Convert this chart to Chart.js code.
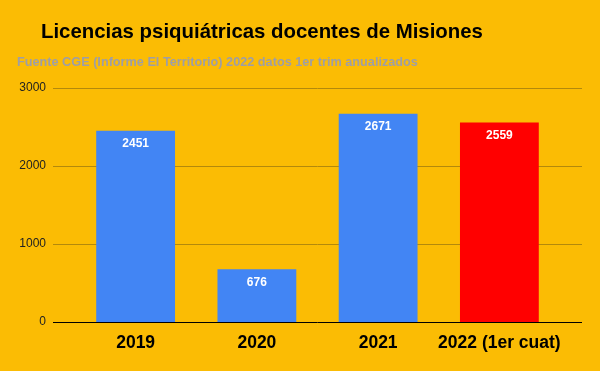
<!DOCTYPE html>
<html>
<head>
  <meta charset="UTF-8" />
  <title>Licencias psiquiátricas docentes de Misiones</title>
  <script src="https://cdn.jsdelivr.net/npm/chart.js"></script>
  <style>
    body {
      margin: 0;
      padding: 0;
      background: #fbbc04;
    }
    #wrap {
      width: 600px;
      height: 371px;
    }
  </style>
</head>
<body>
  <div id="wrap"><canvas id="chart" width="600" height="371"></canvas></div>
  <script>
    const years = ['2019', '2020', '2021', '2022 (1er cuat)'];
    const licencias = [2451, 676, 2671, 2559];
    const barColors = ['#4285f4', '#4285f4', '#4285f4', '#ff0000'];
    const yTicks = [0, 1000, 2000, 3000];

    const titleText = 'Licencias psiquiátricas docentes de Misiones';
    const subtitleText = 'Fuente CGE (Informe El Territorio) 2022 datos 1er trim anualizados';
    const font = '"Liberation Sans", Arial, sans-serif';

    // titles, long grid lines and value labels
    const decor = {
      id: 'decor',
      beforeDraw(chart) {
        const ctx = chart.ctx;
        ctx.save();
        ctx.fillStyle = '#fbbc04';
        ctx.fillRect(0, 0, chart.width, chart.height);
        ctx.textBaseline = 'alphabetic';
        ctx.textAlign = 'left';
        ctx.fillStyle = '#000';
        ctx.font = 'bold 20.4px ' + font;
        ctx.fillText(titleText, 41, 38);
        ctx.fillStyle = '#9e9ea6';
        ctx.font = 'bold 12.7px ' + font;
        ctx.fillText(subtitleText, 17, 66);
        ctx.restore();
      },
      beforeDatasetsDraw(chart) {
        const ctx = chart.ctx;
        const y = chart.scales.y;
        ctx.save();
        yTicks.forEach(v => {
          const py = Math.round(y.getPixelForValue(v)) + 0.5;
          ctx.strokeStyle = v === 0 ? '#000' : '#b3890c';
          ctx.lineWidth = 1;
          ctx.beginPath();
          ctx.moveTo(53, py);
          ctx.lineTo(582, py);
          ctx.stroke();
        });
        ctx.restore();
      },
      afterDatasetsDraw(chart) {
        const ctx = chart.ctx;
        ctx.save();
        ctx.fillStyle = '#fff';
        ctx.font = 'bold 12px ' + font;
        ctx.textAlign = 'center';
        ctx.textBaseline = 'middle';
        chart.getDatasetMeta(0).data.forEach((bar, i) => {
          ctx.fillText(String(licencias[i]), bar.x, bar.y + 13);
        });
        ctx.restore();
      }
    };

    new Chart(document.getElementById('chart').getContext('2d'), {
      type: 'bar',
      data: {
        labels: years,
        datasets: [{
          data: licencias,
          backgroundColor: barColors,
          borderWidth: 0,
          barPercentage: 0.65,
          categoryPercentage: 1
        }]
      },
      options: {
        responsive: false,
        animation: false,
        layout: { padding: { top: 88, right: 40, left: 0, bottom: 0 } },
        plugins: {
          legend: { display: false },
          title: { display: false },
          tooltip: { enabled: false }
        },
        scales: {
          x: {
            grid: { display: false, drawTicks: false },
            border: { display: false },
            ticks: {
              color: '#000',
              padding: 11,
              autoSkip: false,
              maxRotation: 0,
              minRotation: 0,
              font: { family: font, size: 17.5, weight: 'bold' }
            },
            afterFit(scale) { scale.height = 49; }
          },
          y: {
            min: 0,
            max: 3000,
            grid: { display: false, drawTicks: false },
            border: { display: false },
            afterBuildTicks(scale) { scale.ticks = yTicks.map(v => ({ value: v })); },
            ticks: {
              color: '#222',
              padding: 29,
              font: { family: font, size: 12 },
              callback: v => String(v)
            },
            afterFit(scale) { scale.width = 75; }
          }
        }
      },
      plugins: [decor]
    });
  </script>
</body>
</html>
